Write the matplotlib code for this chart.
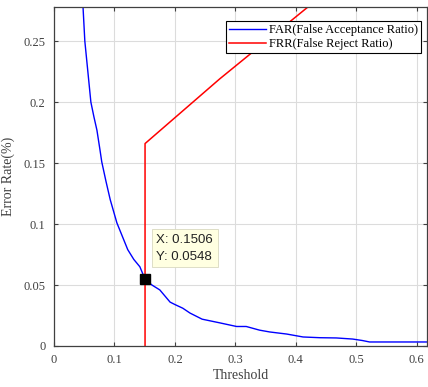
import matplotlib
matplotlib.use("Agg")
import matplotlib.pyplot as plt

far_x = [0.047, 0.048, 0.051, 0.056, 0.061, 0.066, 0.071, 0.076, 0.079, 0.086, 0.093, 0.104,
         0.113, 0.122, 0.132, 0.142, 0.1506, 0.162, 0.175, 0.192, 0.200, 0.213, 0.225,
         0.245, 0.274, 0.302, 0.318, 0.340, 0.357, 0.385, 0.412, 0.440, 0.467, 0.494,
         0.510, 0.522, 0.560, 0.620]
far_y = [0.290, 0.278, 0.250, 0.225, 0.200, 0.188, 0.177, 0.161, 0.151, 0.135, 0.120, 0.101,
         0.090, 0.079, 0.071, 0.065, 0.0548, 0.050, 0.046, 0.036, 0.034, 0.031, 0.027,
         0.022, 0.019, 0.016, 0.016, 0.013, 0.0115, 0.0098, 0.0074, 0.0068, 0.0066, 0.0057,
         0.0045, 0.0033, 0.0033, 0.0033]

frr_x = [0.1506, 0.1506, 0.274, 0.42, 0.62]
frr_y = [0.0, 0.166, 0.219, 0.278, 0.36]

tip_x, tip_y = 0.1506, 0.0548

xticks = [0, 0.1, 0.2, 0.3, 0.4, 0.5, 0.6]
xtick_labels = ["0", "0.1", "0.2", "0.3", "0.4", "0.5", "0.6"]
yticks = [0, 0.05, 0.1, 0.15, 0.2, 0.25]
ytick_labels = ["0", "0.05", "0.1", "0.15", "0.2", "0.25"]

serif = ["Liberation Serif", "DejaVu Serif"]
fig = plt.figure(figsize=(4.28, 3.87), dpi=100)
ax = fig.add_axes([54/428, 1-346/387, (427-54)/428, (346-7)/387])

ax.plot(far_x, far_y, color="#0000ff", lw=1.0, label="FAR(False Acceptance Ratio)")
ax.plot(frr_x, frr_y, color="#ff0000", lw=1.1, label="FRR(False Reject Ratio)")
ax.plot([tip_x], [tip_y], marker="s", color="black", ms=7, ls="none")

ax.annotate(f"X: {tip_x:.4f}\nY: {tip_y:.4f}", xy=(tip_x, tip_y), xytext=(8, 12),
            textcoords="offset points", fontsize=9.5, family=["Liberation Sans", "DejaVu Sans"],
            color="#222222", linespacing=1.5, va="bottom", ha="left",
            bbox=dict(boxstyle="square,pad=0.35", fc="#ffffe1", ec="#d8d8c0", lw=0.6))

ax.set_xlim(0, 0.617)
ax.set_ylim(0, 0.278)
ax.set_xticks(xticks)
ax.set_xticklabels(xtick_labels, family=serif, fontsize=9, color="#404040")
ax.set_yticks(yticks)
ax.set_yticklabels(ytick_labels, family=serif, fontsize=9, color="#404040")
ax.tick_params(direction="in", top=True, right=True, length=3, color="#404040", pad=6)
ax.grid(True, color="#dcdcdc", lw=0.8)
for s in ax.spines.values():
    s.set_color("#404040")
    s.set_linewidth(0.9)

ax.set_xlabel("Threshold", family=serif, fontsize=10, color="#404040", labelpad=2)
ax.set_ylabel("Error Rate(%)", family=serif, fontsize=10, color="#404040", labelpad=6)

leg = ax.legend(loc="upper right", bbox_to_anchor=(0.984, 0.959), prop={"family": serif, "size": 9},
                fancybox=False, framealpha=1, edgecolor="black", borderpad=0.25,
                labelspacing=0.15, handlelength=3.0, handletextpad=0.2, borderaxespad=0)
leg.get_frame().set_linewidth(0.8)

fig.savefig("out.png", dpi=100)
